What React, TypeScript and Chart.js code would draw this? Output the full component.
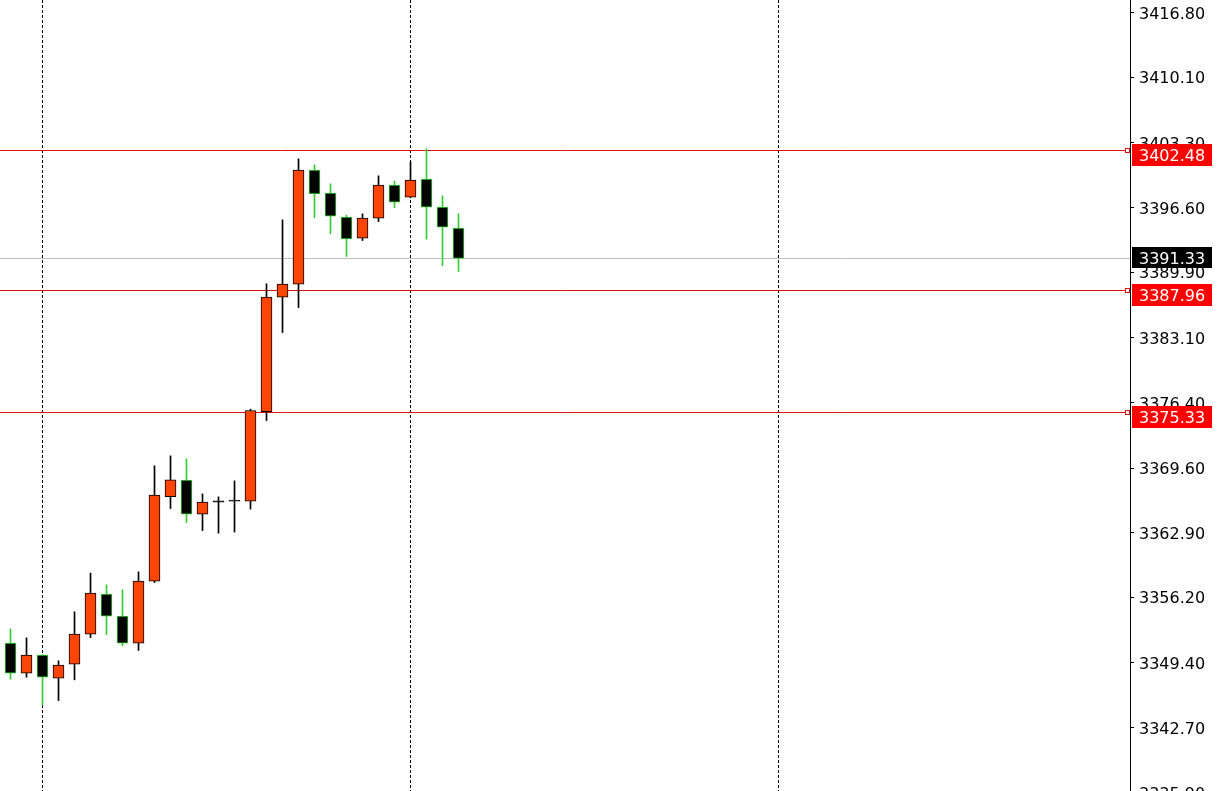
import { useEffect, useRef } from "react";
import { Chart, registerables } from "chart.js";

Chart.register(...registerables);

// OHLC candles (bar index 0..28)
const opens = [
  3351.45, 3348.34, 3350.21, 3347.83, 3349.28, 3352.39, 3356.53, 3354.25, 3351.45, 3357.88,
  3366.64, 3368.34, 3364.82, 3366.05, 3366.17, 3366.17, 3375.45, 3387.31, 3388.65, 3400.47,
  3398.08, 3395.6, 3393.42, 3395.49, 3398.91, 3397.67, 3399.54, 3396.63, 3394.46,
];
const highs = [
  3352.93, 3352.0, 3350.27, 3349.62, 3354.7, 3358.71, 3357.49, 3356.98, 3358.84, 3369.83,
  3370.86, 3370.55, 3366.92, 3366.61, 3368.27, 3375.7, 3388.69, 3395.32, 3401.64, 3401.02,
  3399.05, 3395.8, 3395.94, 3399.88, 3399.33, 3401.33, 3402.68, 3397.81, 3395.94,
];
const lows = [
  3347.72, 3347.93, 3345.03, 3345.5, 3347.65, 3352.03, 3352.34, 3351.17, 3350.69, 3357.73,
  3365.4, 3363.95, 3363.12, 3362.85, 3362.96, 3365.34, 3374.52, 3383.64, 3386.23, 3395.56,
  3393.9, 3391.52, 3393.17, 3395.14, 3396.59, 3397.6, 3393.32, 3390.58, 3389.96,
];
const closes = [
  3348.34, 3350.21, 3347.93, 3349.17, 3352.39, 3356.63, 3354.25, 3351.45, 3357.88, 3366.79,
  3368.37, 3364.82, 3366.06, 3366.2, 3366.17, 3375.56, 3387.31, 3388.65, 3400.47, 3398.01,
  3395.7, 3393.35, 3395.49, 3398.91, 3397.15, 3399.43, 3396.63, 3394.56, 3391.33,
];

const yTickValues = [
  3416.8, 3410.1, 3403.3, 3396.6, 3389.9, 3383.1, 3376.4, 3369.6, 3362.9, 3356.2, 3349.4,
  3342.7, 3335.9,
];
const separatorIndices = [2, 25, 48];
const levelLines = [3402.48, 3387.96, 3375.33];
const currentPrice = 3391.33;

const Y_MAX = 3418.1;
const Y_MIN = 3336.13;
const X_MIN = -0.65625;
const X_MAX = 69.96875;

const BULL_FILL = "#ff4500";
const BEAR_FILL = "#000000";
const BULL_LINE = "#000000";
const BEAR_LINE = "#32cd32";
const LEVEL_RED = "#dd1111";
const FONT = '16px "DejaVu Sans"';

export default function App() {
  const ref = useRef<HTMLCanvasElement>(null);

  useEffect(() => {
    const canvas = ref.current;
    if (!canvas) return;
    const idx = opens.map((_, i) => i);
    const bull = (i: number) => closes[i] >= opens[i];
    const doji = (i: number) => Math.abs(closes[i] - opens[i]) < 0.2;
    const bodyData = idx.map((i) => ({ x: i, y: [opens[i], closes[i]] }));
    const wickData = idx.map((i) => ({ x: i, y: [lows[i], highs[i]] }));

    const overlay = {
      id: "overlay",
      beforeDatasetsDraw(chart: any) {
        const { ctx, chartArea } = chart;
        const y = chart.scales.y;
        ctx.save();
        ctx.setLineDash([]);
        ctx.lineWidth = 1;
        const yc = Math.floor(y.getPixelForValue(currentPrice)) + 0.5;
        ctx.strokeStyle = "#c0c0c0";
        ctx.beginPath();
        ctx.moveTo(chartArea.left, yc);
        ctx.lineTo(chartArea.right, yc);
        ctx.stroke();
        levelLines.forEach((v) => {
          const yy = Math.floor(y.getPixelForValue(v)) + 0.5;
          ctx.strokeStyle = LEVEL_RED;
          ctx.beginPath();
          ctx.moveTo(chartArea.left, yy);
          ctx.lineTo(chartArea.right - 5, yy);
          ctx.stroke();
        });
        ctx.restore();
      },
      afterDraw(chart: any) {
        const { ctx, chartArea } = chart;
        const y = chart.scales.y;
        ctx.save();
        ctx.setLineDash([]);
        ctx.font = FONT;
        ctx.textBaseline = "middle";
        ctx.textAlign = "left";
        const boxX = chartArea.right + 2;
        const boxW = 80;
        levelLines.forEach((v) => {
          const yy = Math.floor(y.getPixelForValue(v)) + 0.5;
          // end marker
          ctx.fillStyle = "#ffffff";
          ctx.fillRect(chartArea.right - 5, yy - 2, 4, 4);
          ctx.strokeStyle = LEVEL_RED;
          ctx.lineWidth = 1;
          ctx.strokeRect(chartArea.right - 4.5, yy - 2, 4, 4);
          // tag
          const top = yy - 6.5;
          ctx.fillStyle = "#ff0000";
          ctx.fillRect(boxX, top, boxW, 22);
          ctx.fillStyle = "#ffffff";
          ctx.fillText(v.toFixed(2), boxX + 7, top + 13);
        });
        const yc = Math.floor(y.getPixelForValue(currentPrice)) + 0.5;
        const topC = yc - 11.5;
        ctx.fillStyle = "#000000";
        ctx.fillRect(boxX, topC, boxW, 21);
        ctx.fillStyle = "#ffffff";
        ctx.fillText(currentPrice.toFixed(2), boxX + 7, topC + 12.5);
        ctx.restore();
      },
    };

    const chart = new Chart(canvas, {
      type: "bar",
      data: {
        datasets: [
          {
            label: "wick",
            data: wickData as any,
            backgroundColor: idx.map((i) => (bull(i) ? BULL_LINE : BEAR_LINE)),
            borderWidth: 0,
            barThickness: 1,
            grouped: false,
            order: 2,
          } as any,
          {
            label: "body",
            data: bodyData as any,
            backgroundColor: idx.map((i) =>
              doji(i) ? "#000000" : bull(i) ? BULL_FILL : BEAR_FILL
            ),
            borderColor: idx.map((i) => (bull(i) ? BULL_LINE : BEAR_LINE)),
            borderWidth: 1,
            borderSkipped: false,
            barThickness: 11,
            minBarLength: 1,
            grouped: false,
            order: 1,
          } as any,
        ],
      },
      options: {
        animation: false,
        responsive: false,
        events: [],
        layout: { padding: 0 },
        plugins: {
          legend: { display: false },
          tooltip: { enabled: false },
        },
        scales: {
          x: {
            type: "linear",
            min: X_MIN,
            max: X_MAX,
            offset: false,
            afterBuildTicks: (scale: any) => {
              scale.ticks = separatorIndices.map((v) => ({ value: v }));
            },
            afterFit: (scale: any) => {
              scale.height = 0;
              scale.paddingLeft = 0;
              scale.paddingRight = 0;
            },
            ticks: { display: false },
            grid: { color: "#000000", lineWidth: 1, drawTicks: false, offset: false },
            border: { display: false, dash: [3, 2] },
          },
          y: {
            type: "linear",
            position: "right",
            min: Y_MIN,
            max: Y_MAX,
            afterBuildTicks: (scale: any) => {
              scale.ticks = yTickValues.map((v) => ({ value: v }));
            },
            afterFit: (scale: any) => {
              scale.width = 95;
              scale.paddingTop = 0;
              scale.paddingBottom = 0;
            },
            ticks: {
              autoSkip: false,
              padding: 5,
              labelOffset: 2,
              color: "#000000",
              font: { family: "DejaVu Sans", size: 16 },
              callback: (v: any) => Number(v).toFixed(2),
            },
            grid: {
              drawOnChartArea: false,
              drawTicks: true,
              tickLength: 4,
              color: "#000000",
            },
            border: { display: true, color: "#000000", width: 1 },
          },
        },
      },
      plugins: [overlay],
    });
    return () => chart.destroy();
  }, []);

  return (
    <div
      style={{
        position: "fixed",
        left: 0,
        top: 0,
        width: 1225,
        height: 791,
        background: "#ffffff",
      }}
    >
      <canvas ref={ref} width={1225} height={791} style={{ display: "block" }} />
    </div>
  );
}
